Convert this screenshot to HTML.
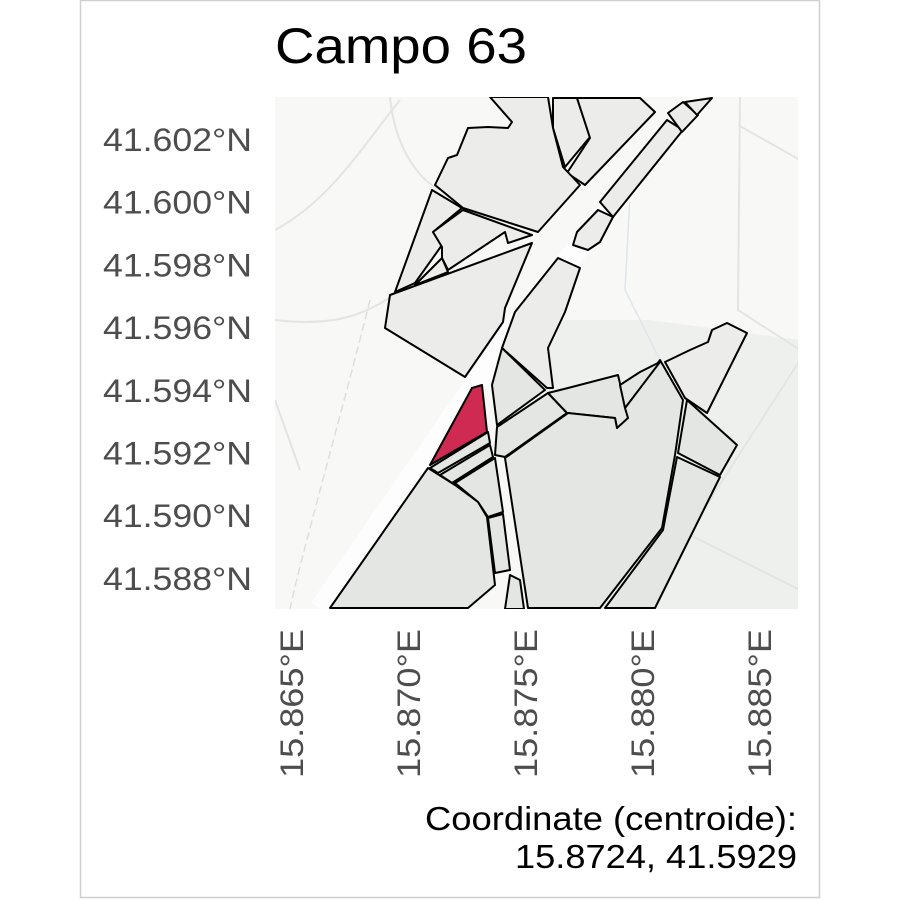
<!DOCTYPE html>
<html><head><meta charset="utf-8"><style>
html,body{margin:0;padding:0;background:#fff;}
svg{display:block;}
text{font-family:"Liberation Sans",Arial,sans-serif;}
</style></head><body>
<svg id="chart" width="900" height="900" viewBox="0 0 900 900">
  <rect x="80.5" y="0.5" width="739" height="897" fill="#fff" stroke="#cfcfcf" stroke-width="1.5"/>
  <text x="275" y="63" font-size="50" fill="#000" textLength="252" lengthAdjust="spacingAndGlyphs">Campo 63</text>
  <defs><clipPath id="pc"><rect x="275" y="97" width="523" height="512"/></clipPath></defs>
  <g clip-path="url(#pc)">
    <rect x="275" y="97" width="523" height="512" fill="#f8f8f7"/>
    <polygon points="540,320 650,320 800,340 800,609 560,609" fill="#eef0ee"/>
    <g fill="none" stroke="#e4e4e4" stroke-width="2">
      <path d="M275,230 C330,200 360,150 400,100"/>
      <path d="M275,320 C360,330 380,300 420,280"/>
      <path d="M390,97 C395,150 420,180 440,190"/>
      <path d="M740,97 L738,310 L800,350"/>
      <path d="M738,125 L800,160"/>
      <path d="M800,360 L640,609"/>
      <path d="M690,535 L800,590"/>
      <path d="M275,400 L300,470"/>
    </g>
    <path d="M630,195 L625,290 L660,360" fill="none" stroke="#dfe5ea" stroke-width="1.5"/>
    <path d="M370,300 C340,420 300,560 290,609" fill="none" stroke="#dedede" stroke-width="1.5" stroke-dasharray="8,4"/>
    <path d="M320,609 L520,320 L700,97" fill="none" stroke="#fdfdfd" stroke-width="22"/>
    <g stroke="#000" stroke-width="2" stroke-linejoin="round">
      <polygon fill="#ececeb" points="553,98 577,98 590,137 565,167 553,128"/>
      <polygon fill="#ececeb" points="577,98 640,98 655,112 585,185 567,173 590,138"/>
      <polygon fill="#ececeb" points="435,185 448,158 457,155 468,128 488,127 508,128 512,122 490,97 548,97 553,128 563,167 580,185 538,232 463,208"/>
      <polygon fill="#ececeb" points="395,292 432,190 462,208 433,232 442,245 415,283"/>
      <polygon fill="#ececeb" points="415,285 442,258 448,272"/>
      <polygon fill="#ececeb" points="463,210 532,235 508,243 505,232 448,270 442,258 442,247 433,232"/>
      <polygon fill="#ececeb" points="390,295 532,243 505,308 503,322 465,377 385,328"/>
      <polygon fill="#ececeb" points="600,202 667,120 683,130 613,217"/>
      <polygon fill="#ececeb" points="668,113 683,102 698,115 682,132"/>
      <polygon fill="#ececeb" points="685,102 712,98 697,115"/>
      <polygon fill="#ececeb" points="577,232 598,210 613,217 600,242 588,250 573,245"/>
      <polygon fill="#ececeb" points="502,348 515,312 558,258 580,268 565,312 548,348 553,388 547,388"/>
      <polygon fill="#e4e6e3" points="502,348 545,390 497,425 492,385"/>
      <polygon fill="#e4e6e3" points="497,427 548,393 567,413 505,457 495,455"/>
      <polygon fill="#e4e6e3" points="548,393 568,388 618,375 622,392 630,395 628,420 617,428 615,418 567,413"/>
      <polygon fill="#e4e6e3" points="505,458 568,413 615,418 617,428 628,418 625,408 660,360 683,400 675,455 662,528 600,608 528,608"/>
      <polygon fill="#e4e6e3" points="625,408 620,385 640,372 660,362"/>
      <polygon fill="#ececeb" points="665,362 690,350 708,342 712,330 727,323 747,333 707,413 685,398"/>
      <polygon fill="#e4e6e3" points="687,400 737,445 720,475 678,453"/>
      <polygon fill="#e4e6e3" points="677,457 720,477 655,608 605,608 663,530"/>
      <polygon fill="#e4e6e3" points="430,468 488,432 490,443 438,473"/>
      <polygon fill="#e4e6e3" points="440,475 490,445 493,457 452,483"/>
      <polygon fill="#e4e6e3" points="455,483 495,458 503,512 488,517 478,502"/>
      <polygon fill="#e4e6e3" points="488,518 503,514 510,570 495,573"/>
      <polygon fill="#e4e6e3" points="428,468 455,485 478,502 487,517 495,585 468,608 330,608"/>
      <polygon fill="#e4e6e3" points="510,575 520,580 524,609 505,609"/>
      <polygon fill="#cf2a51" points="482,385 487,432 430,465 472,388"/>
    </g>
  </g>
  <g id="yaxis"></g>
  <g id="xaxis"></g>
  <text x="797" y="830" font-size="33" text-anchor="end" fill="#000" textLength="372" lengthAdjust="spacingAndGlyphs">Coordinate (centroide):</text>
  <text x="797" y="868" font-size="33" text-anchor="end" fill="#000" textLength="282" lengthAdjust="spacingAndGlyphs">15.8724, 41.5929</text>
</svg>
<script>
const yTicks = [41.602, 41.600, 41.598, 41.596, 41.594, 41.592, 41.590, 41.588];
const yTickLabels = ["41.602°N","41.600°N","41.598°N","41.596°N","41.594°N","41.592°N","41.590°N","41.588°N"];
const xTicks = [15.865, 15.870, 15.875, 15.880, 15.885];
const xTickLabels = ["15.865°E","15.870°E","15.875°E","15.880°E","15.885°E"];
const NS = "http://www.w3.org/2000/svg";
function yScale(v){ return 139 + (41.602 - v) / 0.002 * 62.7; }
function xScale(v){ return 525 + (v - 15.875) / 0.005 * 117; }
const yg = document.getElementById('yaxis');
yTicks.forEach((v,i)=>{
  const t = document.createElementNS(NS,'text');
  t.setAttribute('x', 252);
  t.setAttribute('y', yScale(v) + 12);
  t.setAttribute('text-anchor','end');
  t.setAttribute('font-size','32');
  t.setAttribute('textLength','149');
  t.setAttribute('lengthAdjust','spacingAndGlyphs');
  t.setAttribute('fill','#4d4d4d');
  
  
  t.textContent = yTickLabels[i];
  yg.appendChild(t);
});
const xg = document.getElementById('xaxis');
xTicks.forEach((v,i)=>{
  const t = document.createElementNS(NS,'text');
  const cx = xScale(v) + 12;
  t.setAttribute('x', cx);
  t.setAttribute('y', 629);
  t.setAttribute('text-anchor','end');
  t.setAttribute('font-size','32');
  t.setAttribute('textLength','149');
  t.setAttribute('lengthAdjust','spacingAndGlyphs');
  t.setAttribute('fill','#4d4d4d');
  t.setAttribute('transform','rotate(-90 ' + cx + ' 629)');
  
  
  t.textContent = xTickLabels[i];
  xg.appendChild(t);
});
</script>
</body></html>
